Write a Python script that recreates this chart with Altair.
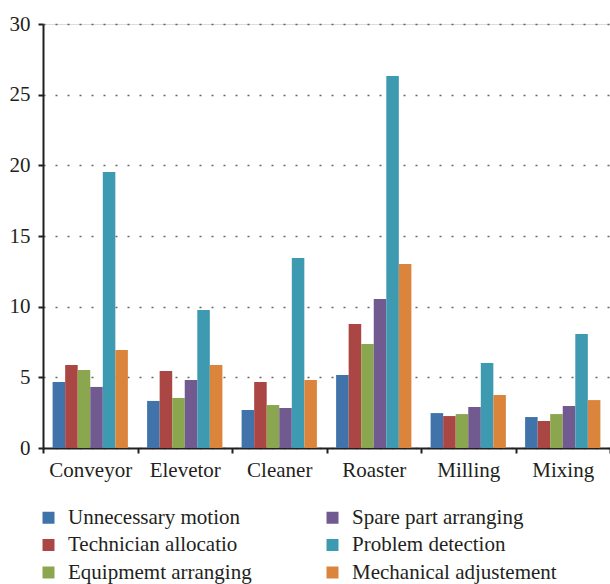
import altair as alt
import pandas as pd

categories = ["Conveyor", "Elevetor", "Cleaner", "Roaster", "Milling", "Mixing"]
series = [
    "Unnecessary motion",
    "Technician allocatio",
    "Equipmemt arranging",
    "Spare part arranging",
    "Problem detection",
    "Mechanical adjustement",
]
unnecessary_motion = [4.67, 3.33, 2.69, 5.16, 2.47, 2.19]
technician_allocatio = [5.87, 5.45, 4.67, 8.77, 2.26, 1.91]
equipmemt_arranging = [5.52, 3.54, 3.04, 7.36, 2.40, 2.40]
spare_part_arranging = [4.32, 4.81, 2.83, 10.54, 2.90, 2.97]
problem_detection = [19.53, 9.76, 13.44, 26.32, 6.01, 8.07]
mechanical_adjustement = [6.93, 5.87, 4.81, 13.02, 3.75, 3.39]
colors = ["#3F73A9", "#AA4643", "#8AA64E", "#715A90", "#3E9AB1", "#DB843C"]
y_ticks = [0, 5, 10, 15, 20, 25, 30]

values = [unnecessary_motion, technician_allocatio, equipmemt_arranging,
          spare_part_arranging, problem_detection, mechanical_adjustement]
rows = []
for s, vals in zip(series, values):
    for c, v in zip(categories, vals):
        rows.append({"category": c, "series": s, "value": v})
df = pd.DataFrame(rows)

FONT = "Liberation Serif"
INK = "#231f20"

chart = alt.Chart(df).mark_bar().encode(
    x=alt.X("category:N", sort=categories,
            scale=alt.Scale(paddingInner=0, paddingOuter=0),
            axis=alt.Axis(title=None, labelAngle=0, tickBand="extent",
                          labelPadding=6, tickSize=5, tickWidth=2,
                          tickColor=INK, domainColor=INK, domainWidth=2,
                          labelFontSize=21, labelFont=FONT, labelColor=INK,
                          grid=False)),
    xOffset=alt.XOffset("series:N", sort=series,
                        scale=alt.Scale(paddingInner=0, paddingOuter=0.766)),
    y=alt.Y("value:Q", scale=alt.Scale(domain=[0, 30], nice=False),
            axis=alt.Axis(title=None, values=y_ticks, tickSize=5, tickWidth=2,
                          tickColor=INK, domainColor=INK, domainWidth=2,
                          labelPadding=8, labelFontSize=21, labelFont=FONT,
                          labelColor=INK, grid=True, gridDash=[2, 10],
                          gridColor="#666666", gridWidth=1.5)),
    color=alt.Color("series:N",
                    scale=alt.Scale(domain=series, range=colors),
                    legend=alt.Legend(title=None, orient="none", legendX=-5,
                                      legendY=483, columns=2, symbolType="square",
                                      symbolSize=144, symbolStrokeWidth=0,
                                      labelOffset=9, columnPadding=70,
                                      rowPadding=5.5, padding=0,
                                      labelFontSize=21, labelFont=FONT,
                                      labelColor=INK, labelLimit=400)),
).properties(
    width=567,
    height=424,
    autosize=alt.AutoSizeParams(type="none"),
    padding={"left": 43, "top": 24, "right": 0, "bottom": 136},
).configure_view(stroke=None).configure(font=FONT)

chart.save("out.html", embed_options={"renderer": "svg", "actions": False})
